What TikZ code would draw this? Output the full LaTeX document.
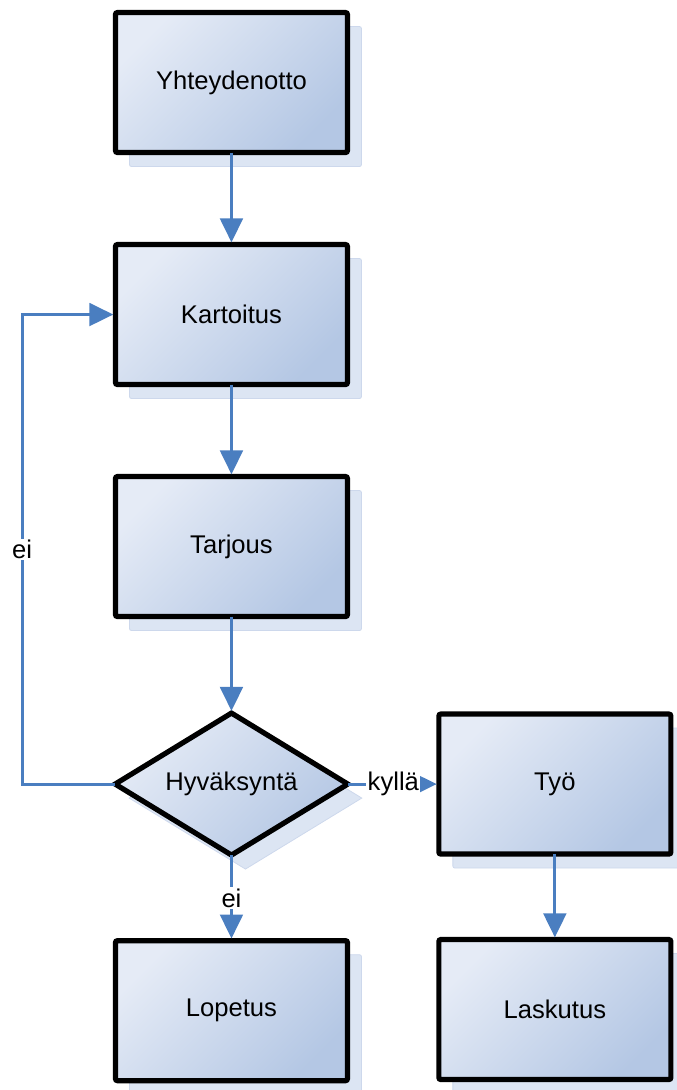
\documentclass[tikz,border=0pt]{standalone}
\usepackage{fontspec}
\setmainfont{Liberation Sans}
\usepackage{tikz}
\usetikzlibrary{arrows.meta,positioning,shapes.geometric,shadows}
\definecolor{flowlight}{RGB}{229,235,246}
\definecolor{flowdark}{RGB}{180,199,228}
\definecolor{flowshade}{RGB}{220,229,243}
\definecolor{flowshadeline}{RGB}{205,216,236}
\definecolor{flowblue}{RGB}{74,126,192}
\tikzset{
  fshadow/.style={drop shadow={shadow xshift=10.5pt, shadow yshift=-10.5pt,
    fill=flowshade, draw=flowshadeline, line width=0.6pt, opacity=1}},
  fbox/.style={rectangle, draw=black, line width=3.9pt, rounded corners=1.5pt,
    top color=flowlight, bottom color=flowdark, shading angle=45, fshadow,
    minimum width=174pt, minimum height=105pt, outer sep=0pt,
    font=\fontsize{19.2pt}{23pt}\selectfont},
  fdec/.style={diamond, aspect=1.64, draw=black, line width=3.9pt,
    top color=flowlight, bottom color=flowdark, shading angle=45, fshadow,
    minimum width=174.5pt, minimum height=106.5pt, inner sep=0pt, outer sep=0pt,
    font=\fontsize{19.2pt}{23pt}\selectfont},
  arr/.style={-{Triangle[length=18pt,width=17pt]}, line width=2.25pt, flowblue,
    shorten >=1.6pt},
  lbl/.style={fill=white, inner sep=1pt, text=black,
    font=\fontsize{19.2pt}{23pt}\selectfont}
}
\begin{document}
\begin{tikzpicture}[node distance=69pt]
    \useasboundingbox (0,0) rectangle (507.75pt,-817.5pt);
    \node[fbox] (contact) at (173.6pt,-61.9pt) {Yhteydenotto};
    \node[fbox,below=of contact] (survey) {Kartoitus};
    \node[fbox,below=of survey] (offer) {Tarjous};
    \node[fdec,below=72.4pt of offer] (accept) {Hyväksyntä};
    \node[fbox,right=68.3pt of accept] (work) {Työ};
    \node[fbox,below=64.2pt of accept] (stop) {Lopetus};
    \node[fbox,below=64.1pt of work] (invoice) {Laskutus};
    \coordinate (loop) at (16.5pt,0);

    \draw[arr] (contact) -- (survey);
    \draw[arr] (survey) -- (offer);
    \draw[arr] (offer) -- (accept);
    \draw[arr] (accept.east) -- node[lbl] {kyllä} (work.west);
    \draw[arr] (accept.south) -- node[lbl] {ei} (stop.north);
    \draw[arr] (work) -- (invoice);
    \draw[arr] (accept.west) -- (accept.west -| loop) -- node[lbl] {ei} (survey.west -| loop) -- (survey.west);
  \end{tikzpicture}
\end{document}
